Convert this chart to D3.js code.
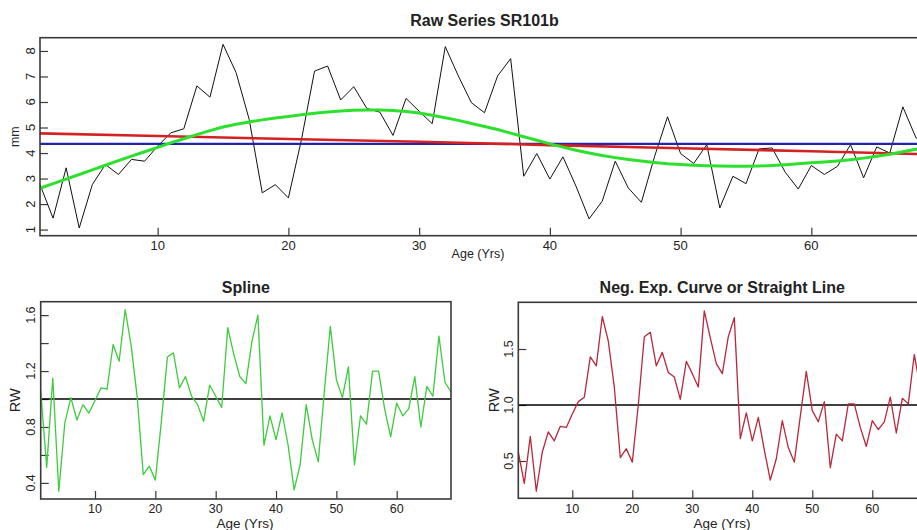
<!DOCTYPE html>
<meta charset="utf-8">
<style>

body { margin: 0; background: #fff; }

text {
  font-family: "Liberation Sans", Arial, sans-serif;
  fill: #222;
}

.frame {
  fill: none;
  stroke: #3a3a3a;
  stroke-width: 1.6px;
}

.ticks line {
  stroke: #3a3a3a;
  stroke-width: 1.2px;
}

.title { font-weight: bold; }

</style>
<svg width="917" height="530"></svg>
<script src="https://d3js.org/d3.v7.min.js"></script>
<script>

// Ages (years) shared by all three panels
var ages = [1, 2, 3, 4, 5, 6, 7, 8, 9, 10, 11, 12, 13, 14, 15, 16, 17, 18, 19, 20,
  21, 22, 23, 24, 25, 26, 27, 28, 29, 30, 31, 32, 33, 34, 35, 36, 37, 38, 39, 40,
  41, 42, 43, 44, 45, 46, 47, 48, 49, 50, 51, 52, 53, 54, 55, 56, 57, 58, 59, 60,
  61, 62, 63, 64, 65, 66, 67, 68, 69];

// Raw ring widths (mm)
var rawWidths = [2.76, 1.45, 3.42, 1.06, 2.76, 3.55, 3.16, 3.75, 3.68, 4.27,
  4.79, 4.95, 6.63, 6.19, 8.26, 7.15, 5.32, 2.44, 2.76, 2.24,
  4.53, 7.21, 7.41, 6.08, 6.60, 5.75, 5.60, 4.69, 6.14, 5.64,
  5.15, 8.17, 7.02, 5.97, 5.58, 7.02, 7.70, 3.09, 3.98, 2.98,
  3.85, 2.70, 1.42, 2.11, 3.68, 2.63, 2.07, 3.85, 5.42, 3.98,
  3.59, 4.33, 1.85, 3.09, 2.80, 4.16, 4.20, 3.25, 2.59, 3.51,
  3.16, 3.48, 4.33, 3.03, 4.24, 4.00, 5.81, 4.60, 4.45];

// Fitted spline curve (green)
var splineCurve = [2.62, 2.80, 2.98, 3.16, 3.34, 3.52, 3.70, 3.88, 4.05, 4.22,
  4.40, 4.56, 4.72, 4.88, 5.02, 5.13, 5.22, 5.30, 5.37, 5.43,
  5.50, 5.56, 5.61, 5.65, 5.68, 5.69, 5.69, 5.67, 5.63, 5.57,
  5.48, 5.38, 5.28, 5.16, 5.04, 4.92, 4.78, 4.64, 4.50, 4.36,
  4.23, 4.11, 4.00, 3.90, 3.82, 3.75, 3.69, 3.63, 3.58, 3.55,
  3.52, 3.50, 3.49, 3.48, 3.48, 3.49, 3.51, 3.54, 3.58, 3.62,
  3.65, 3.69, 3.74, 3.80, 3.87, 3.95, 4.05, 4.15, 4.24];

// Neg. exp. / straight line fit (red), read at a few ages
var negExpAges = [1, 10, 20, 30, 40, 50, 60, 69];
var negExpCurve = [4.77, 4.67, 4.55, 4.44, 4.31, 4.19, 4.07, 3.95];

// Series mean (blue)
var meanAges = [1, 69];
var meanLevel = [4.36, 4.36];

// Detrended indices
var splineRW = [1.06, 0.51, 1.15, 0.34, 0.83, 1.01, 0.85, 0.96, 0.90, 0.99,
  1.08, 1.07, 1.39, 1.27, 1.64, 1.38, 1.01, 0.46, 0.52, 0.42,
  0.84, 1.30, 1.33, 1.08, 1.16, 1.02, 0.96, 0.84, 1.10, 1.02,
  0.94, 1.51, 1.32, 1.16, 1.11, 1.41, 1.60, 0.67, 0.88, 0.71,
  0.90, 0.67, 0.35, 0.53, 0.96, 0.71, 0.55, 1.05, 1.52, 1.14,
  1.01, 1.23, 0.53, 0.88, 0.82, 1.20, 1.20, 0.93, 0.73, 0.97,
  0.88, 0.93, 1.16, 0.80, 1.09, 1.02, 1.45, 1.12, 1.05];

var negExpRW = [0.58, 0.30, 0.72, 0.23, 0.58, 0.76, 0.68, 0.81, 0.80, 0.92,
  1.03, 1.07, 1.43, 1.35, 1.79, 1.57, 1.16, 0.53, 0.61, 0.49,
  1.00, 1.61, 1.65, 1.35, 1.47, 1.29, 1.25, 1.05, 1.39, 1.28,
  1.16, 1.84, 1.60, 1.37, 1.28, 1.61, 1.78, 0.70, 0.93, 0.68,
  0.89, 0.60, 0.33, 0.52, 0.86, 0.62, 0.49, 0.90, 1.30, 0.95,
  0.85, 1.03, 0.44, 0.74, 0.68, 1.01, 1.01, 0.80, 0.63, 0.86,
  0.78, 0.85, 1.07, 0.75, 1.06, 1.01, 1.45, 1.15, 1.12];

// Axis ticks
var xTicks = [10, 20, 30, 40, 50, 60];
var rawTicks = [1, 2, 3, 4, 5, 6, 7, 8];
var splineTicks = [0.4, 0.6, 0.8, 1.0, 1.2, 1.4, 1.6];
var splineTickLabels = [0.4, 0.8, 1.2, 1.6];
var negExpTicks = [0.5, 1.0, 1.5];

var svg = d3.select("svg");

function pairs(xs, ys) {
  return xs.map(function(x, i) { return [x, ys[i]]; });
}

// Draws one R-style panel: inward ticks, labels, titles
function panel(p) {
  var g = svg.append("g");

  var x = d3.scaleLinear().domain([1, 69]).range([p.left, p.right]);
  var y = d3.scaleLinear().domain(p.yDomain).range([p.bottom, p.top]);

  // x axis ticks point inward
  g.append("g")
      .attr("class", "ticks")
      .attr("transform", "translate(0," + p.bottom + ")")
      .call(d3.axisBottom(x).tickValues(xTicks).tickSizeInner(-8).tickSizeOuter(0).tickFormat(""))
      .call(function(a) { a.select(".domain").remove(); });

  g.selectAll(".xlab")
      .data(xTicks)
      .enter().append("text")
      .attr("x", function(d) { return x(d); })
      .attr("y", p.xTickY)
      .attr("text-anchor", "middle")
      .attr("font-size", p.tickSize)
      .text(function(d) { return d; });

  g.append("g")
      .attr("class", "ticks")
      .attr("transform", "translate(" + p.left + ",0)")
      .call(d3.axisLeft(y).tickValues(p.yTicks).tickSizeInner(-8).tickSizeOuter(0).tickFormat(""))
      .call(function(a) { a.select(".domain").remove(); });

  g.selectAll(".ylab")
      .data(p.yLabels)
      .enter().append("text")
      .attr("transform", function(d) { return "translate(" + p.yTickX + "," + y(d) + ") rotate(-90)"; })
      .attr("dy", "0.35em")
      .attr("text-anchor", "middle")
      .attr("font-size", p.tickSize)
      .text(p.yFormat);

  // titles and axis labels
  g.append("text")
      .attr("class", "title")
      .attr("x", (p.left + p.right) / 2)
      .attr("y", p.titleY)
      .attr("text-anchor", "middle")
      .attr("font-size", 16)
      .text(p.title);

  g.append("text")
      .attr("x", p.xLabelX)
      .attr("y", p.xLabelY)
      .attr("text-anchor", "middle")
      .attr("font-size", p.labelSize)
      .text("Age (Yrs)");

  g.append("text")
      .attr("transform", "translate(" + p.yLabelX + "," + (p.top + p.bottom) / 2 + ") rotate(-90)")
      .attr("dy", "0.35em")
      .attr("text-anchor", "middle")
      .attr("font-size", p.yLabelSize || p.labelSize)
      .text(p.yLabel);

  return { g: g, x: x, y: y };
}

function drawLine(pn, pts, color, width) {
  var line = d3.line()
      .x(function(d) { return pn.x(d[0]); })
      .y(function(d) { return pn.y(d[1]); });
  pn.g.append("path")
      .datum(pts)
      .attr("fill", "none")
      .attr("stroke", color)
      .attr("stroke-width", width)
      .attr("stroke-linejoin", "round")
      .attr("d", line);
}

function frame(pn, p) {
  pn.g.append("rect")
      .attr("class", "frame")
      .attr("x", p.left)
      .attr("y", p.top)
      .attr("width", p.right - p.left)
      .attr("height", p.bottom - p.top);
}

// ---- Top panel: raw series with fitted curves
var rawP = {
  left: 40, right: 929, top: 37.7, bottom: 235.7,
  yDomain: [0.76, 8.52], yTicks: rawTicks, yLabels: rawTicks,
  yFormat: function(d) { return d; },
  tickSize: 13, labelSize: 12.5,
  xTickY: 250, yTickX: 30,
  title: "Raw Series SR101b", titleY: 26,
  xLabelX: 478, xLabelY: 258, yLabel: "mm", yLabelX: 15
};
var rawPanel = panel(rawP);
drawLine(rawPanel, pairs(ages, rawWidths), "#111", 1);
drawLine(rawPanel, pairs(meanAges, meanLevel), "#2222aa", 2.2);
drawLine(rawPanel, pairs(negExpAges, negExpCurve), "#d42222", 2.6);
drawLine(rawPanel, pairs(ages, splineCurve), "#2ee02e", 3);
frame(rawPanel, rawP);

// ---- Bottom left: spline detrended
var splineP = {
  left: 40.7, right: 451, top: 301.7, bottom: 499,
  yDomain: [0.285, 1.696], yTicks: splineTicks, yLabels: splineTickLabels,
  yFormat: function(d) { return d3.format(".1f")(d); },
  tickSize: 12.5, labelSize: 13.5, yLabelSize: 14.5,
  xTickY: 513, yTickX: 31,
  title: "Spline", titleY: 293,
  xLabelX: 245, xLabelY: 527.5, yLabel: "RW", yLabelX: 15
};
var splinePanel = panel(splineP);
drawLine(splinePanel, pairs([1, 69], [1, 1]), "#000", 1.3);
drawLine(splinePanel, pairs(ages, splineRW), "#3ccc3c", 1.3);
frame(splinePanel, splineP);

// ---- Bottom right: neg. exp. detrended
var negExpP = {
  left: 518.3, right: 926.3, top: 302.3, bottom: 498.3,
  yDomain: [0.167, 1.917], yTicks: negExpTicks, yLabels: negExpTicks,
  yFormat: function(d) { return d3.format(".1f")(d); },
  tickSize: 12.5, labelSize: 13.5, yLabelSize: 14.5,
  xTickY: 513, yTickX: 509,
  title: "Neg. Exp. Curve or Straight Line", titleY: 293,
  xLabelX: 722, xLabelY: 527.5, yLabel: "RW", yLabelX: 494
};
var negExpPanel = panel(negExpP);
drawLine(negExpPanel, pairs([1, 69], [1, 1]), "#000", 1.3);
drawLine(negExpPanel, pairs(ages, negExpRW), "#b8283c", 1.3);
frame(negExpPanel, negExpP);

</script>
